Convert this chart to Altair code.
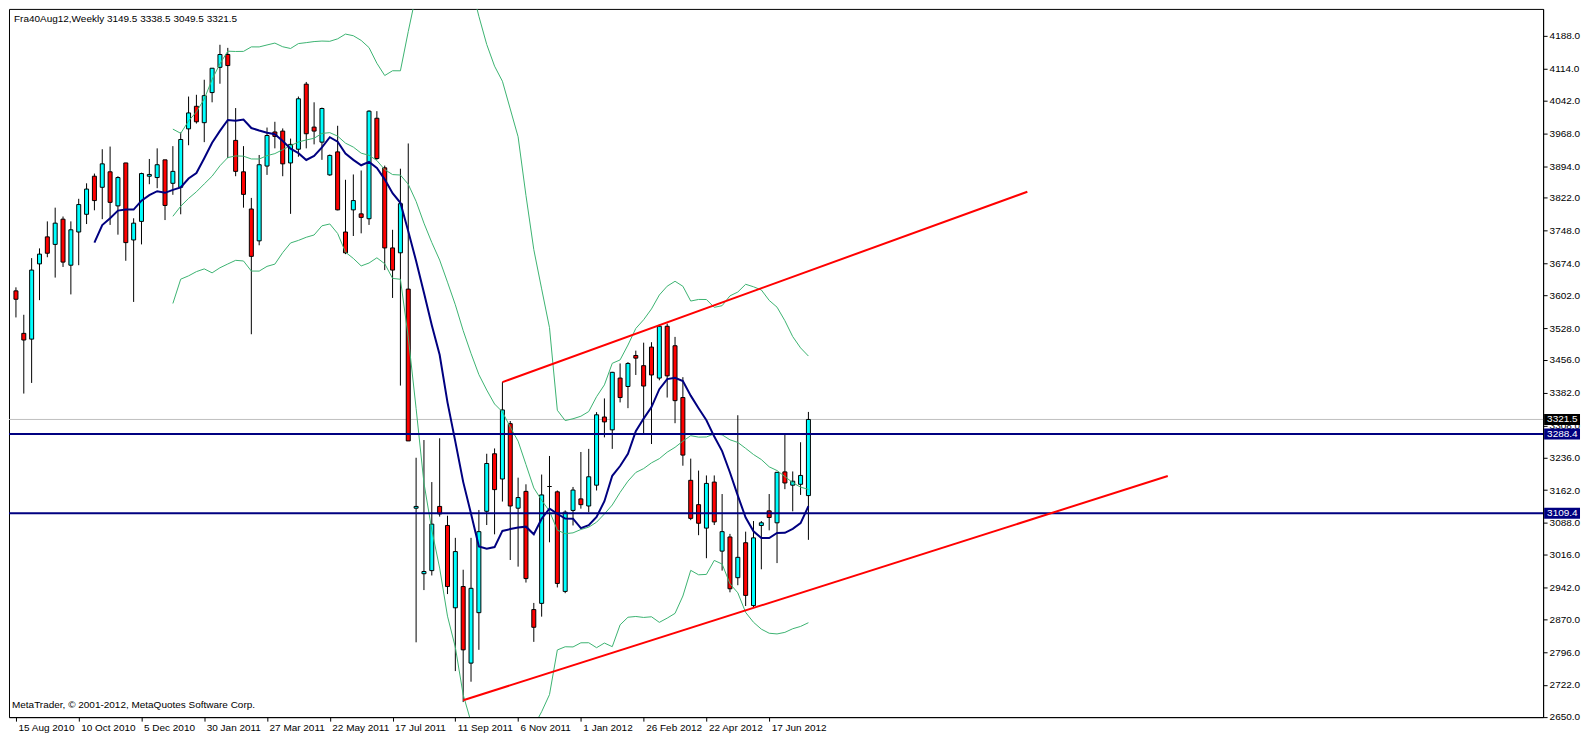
import altair as alt
import pandas as pd

# ---------------- data ----------------
weeks = list(range(102))
opens = [3612, 3516, 3503, 3673, 3734, 3717, 3774, 3670, 3745, 3785,
         3871, 3846, 3881, 3804, 3901, 3727, 3769, 3871, 3868, 3908,
         3855, 3846, 3978, 4029, 3992, 4060, 4117, 4146, 3952, 3881,
         3797, 3725, 3894, 3971, 3973, 3901, 3932, 4079, 3982, 3948,
         3874, 3926, 3745, 3795, 3786, 3775, 4002, 3890, 3709, 3698,
         3616, 3121, 2973, 2980, 3125, 3082, 2896, 2944, 2771, 2885,
         3114, 3244, 3187, 3312, 3121, 3159, 2892, 2906, 3170, 3158,
         2933, 3116, 3142, 3126, 3173, 3327, 3298, 3415, 3396, 3466,
         3443, 3485, 3415, 3532, 3488, 3371, 3184, 3129, 3076, 3180,
         3024, 3056, 2964, 3043, 2901, 3082, 3115, 3088, 3203, 3173,
         3175, 3149.5]
highs = [3620, 3558, 3686, 3708, 3769, 3800, 3780, 3769, 3820, 3855,
         3877, 3932, 3938, 3871, 3901, 3776, 3879, 3910, 3934, 3908,
         3939, 3970, 4051, 4055, 4089, 4115, 4168, 4161, 4025, 3939,
         3822, 3919, 3981, 3994, 3979, 3956, 4051, 4084, 4038, 4026,
         3920, 3985, 3863, 3875, 3884, 4020, 4018, 3895, 3750, 3888,
         3945, 3235, 3275, 3180, 3279, 3104, 3054, 2982, 3054, 3117,
         3244, 3256, 3406, 3318, 3190, 3175, 2907, 3197, 3239, 3161,
         3116, 3169, 3248, 3255, 3338, 3369, 3429, 3448, 3451, 3477,
         3495, 3496, 3536, 3538, 3508, 3417, 3233, 3206, 3195, 3195,
         3153, 3063, 3331, 3068, 3092, 3092, 3153, 3203, 3287, 3204,
         3270, 3338.5]
lows = [3552, 3380, 3404, 3591, 3688, 3642, 3666, 3604, 3670, 3763,
        3794, 3774, 3761, 3739, 3680, 3587, 3717, 3853, 3844, 3772,
        3829, 3785, 3941, 3990, 3948, 4038, 4080, 3912, 3871, 3800,
        3514, 3715, 3874, 3934, 3871, 3786, 3915, 3934, 3943, 3908,
        3872, 3794, 3695, 3736, 3742, 3761, 3908, 3659, 3596, 3398,
        3273, 2818, 2936, 2969, 3102, 2927, 2753, 2683, 2729, 2801,
        3083, 3062, 3136, 3004, 2989, 2953, 2819, 2876, 3044, 2942,
        2929, 3082, 3120, 3112, 3161, 3281, 3255, 3360, 3347, 3422,
        3287, 3266, 3410, 3371, 3313, 3217, 3094, 3060, 3008, 3083,
        2980, 2931, 2947, 2900, 2896, 2983, 3071, 2997, 3164, 3114,
        3151, 3049.5]
closes = [3593, 3501, 3659, 3695, 3697, 3765, 3677, 3750, 3807, 3842,
          3816, 3899, 3812, 3868, 3721, 3765, 3877, 3875, 3897, 3805,
          3882, 3954, 4014, 3994, 4053, 4115, 4146, 4121, 3882, 3830,
          3690, 3897, 3963, 3961, 3899, 3943, 4046, 3967, 3973, 4024,
          3918, 3795, 3698, 3816, 3778, 4018, 3911, 3709, 3659, 3809,
          3273, 3125, 2978, 3085, 3108, 2944, 3023, 2801, 2940, 3068,
          3222, 3163, 3343, 3126, 3145, 2962, 2852, 3151, 3170, 2951,
          3112, 3162, 3129, 3192, 3332, 3316, 3428, 3371, 3448, 3460,
          3397, 3422, 3532, 3420, 3364, 3241, 3098, 3087, 3177, 3090,
          3068, 2939, 3010, 2924, 3054, 3088, 3100, 3202, 3178, 3182,
          3195, 3321.5]

date_labels = ["15 Aug 2010", "10 Oct 2010", "5 Dec 2010", "30 Jan 2011",
               "27 Mar 2011", "22 May 2011", "17 Jul 2011", "11 Sep 2011",
               "6 Nov 2011", "1 Jan 2012", "26 Feb 2012", "22 Apr 2012",
               "17 Jun 2012"]
label_weeks = [0, 8, 16, 24, 32, 40, 48, 56, 64, 72, 80, 88, 96]

price_ticks = [2650.0, 2722.0, 2796.0, 2870.0, 2942.0, 3016.0, 3088.0,
               3162.0, 3236.0, 3308.0, 3382.0, 3456.0, 3528.0, 3602.0,
               3674.0, 3748.0, 3822.0, 3894.0, 3968.0, 4042.0, 4114.0,
               4188.0]

level_prices = [3288.4, 3109.4]
bid_price = [3321.5]

trend_ids = ["upper", "upper", "lower", "lower"]
trend_weeks = [62, 128.9, 57, 146.8]
trend_prices = [3405.7, 3836.0, 2687.0, 3193.7]

box_prices = [3321.5, 3288.4, 3109.4]
box_labels = ["3321.5", "3288.4", "3109.4"]
box_colors = ["#000000", "#000080", "#000080"]

title_text = "Fra40Aug12,Weekly  3149.5 3338.5 3049.5 3321.5"
copyright_text = "MetaTrader, \u00a9 2001-2012, MetaQuotes Software Corp."

# ---------------- chart ----------------
W, H = 1538, 710
FONT = "Liberation Sans"

df = pd.DataFrame({"i": weeks, "open": opens, "high": highs,
                   "low": lows, "close": closes})

label_js = "[" + ",".join("'" + s + "'" for s in date_labels) + "]"
x_scale = alt.Scale(domain=[-0.25, 194.0], nice=False, zero=False)
y_scale = alt.Scale(domain=[2649, 4249], nice=False, zero=False)
x_axis = alt.Axis(values=label_weeks, labelExpr=label_js + "[round(datum.value/8)]",
                  grid=False, tickSize=4, tickColor="black", domainColor="black",
                  labelAlign="left", labelOffset=2, labelPadding=1,
                  labelFont=FONT, labelFontSize=10, labelColor="black", title=None)
y_axis = alt.Axis(values=price_ticks, format=".1f", orient="right", grid=False,
                  tickSize=4, tickColor="black", domainColor="black",
                  labelAlign="left", labelPadding=2, labelFont=FONT,
                  labelFontSize=10, labelColor="black", title=None)


def X(f):
    return alt.X(f, type="quantitative", scale=x_scale, axis=x_axis)


def Y(f):
    return alt.Y(f, type="quantitative", scale=y_scale, axis=y_axis)


base = alt.Chart(df)
updown = alt.condition("datum.close >= datum.open", alt.value("#00FFFF"), alt.value("#FF0000"))

wicks = base.mark_rule(color="black", strokeWidth=1, clip=True).encode(
    x=X("i"), y=Y("low"), y2="high")
bodies = base.mark_bar(size=4, stroke="black", strokeWidth=1, clip=True).encode(
    x=X("i"), y=Y("open"), y2="close", fill=updown)

bands = base.transform_window(
    mid="mean(close)", sd="stdevp(close)", frame=[-19, 0], sort=[alt.SortField("i")]
).transform_filter("datum.i >= 20").transform_calculate(
    up="datum.mid + 2*datum.sd", lo="datum.mid - 2*datum.sd"
).transform_fold(["up", "mid", "lo"], as_=["band", "val"]).mark_line(
    color="#3CB371", strokeWidth=1, clip=True).encode(
    x=X("i"), y=Y("val"), detail="band:N")

ma = base.transform_window(
    ma="mean(close)", frame=[-9, 0], sort=[alt.SortField("i")]
).transform_filter("datum.i >= 10").mark_line(
    color="#000080", strokeWidth=2, clip=True).encode(x=X("i"), y=Y("ma"))

bid = alt.Chart(pd.DataFrame({"p": bid_price})).mark_rule(
    color="#C0C0C0", strokeWidth=1).encode(y=Y("p"))
levels = alt.Chart(pd.DataFrame({"p": level_prices})).mark_rule(
    color="#000080", strokeWidth=2).encode(y=Y("p"))

trends = alt.Chart(pd.DataFrame({"id": trend_ids, "w": trend_weeks, "p": trend_prices})
                   ).mark_line(color="#FF0000", strokeWidth=2, clip=True).encode(
    x=X("w"), y=Y("p"), detail="id:N")

boxdf = pd.DataFrame({"p": box_prices, "lab": box_labels, "bg": box_colors})
boxes = alt.Chart(boxdf).mark_rule(strokeWidth=11).encode(
    y=Y("p"), x=alt.value(W + 1), x2=alt.value(W + 37),
    color=alt.Color("bg:N", scale=None))
box_text = alt.Chart(boxdf).mark_text(
    align="left", baseline="middle", color="white", font=FONT, fontSize=10).encode(
    y=Y("p"), x=alt.value(W + 4), text="lab:N")

title = alt.Chart(pd.DataFrame({"t": [title_text]})).mark_text(
    align="left", baseline="middle", font=FONT, fontSize=10, color="black").encode(
    x=alt.value(5), y=alt.value(10), text="t:N")
copyright = alt.Chart(pd.DataFrame({"t": [copyright_text]})).mark_text(
    align="left", baseline="middle", font=FONT, fontSize=10, color="black").encode(
    x=alt.value(3), y=alt.value(H - 12), text="t:N")

chart = alt.layer(
    bid, wicks, bodies, bands, ma, levels, trends, boxes, box_text, title, copyright
).properties(width=W, height=H, padding=0, background="white").configure_view(
    stroke="black", strokeWidth=1
)

chart.save("out.html", embed_options={"renderer": "svg", "actions": False})
